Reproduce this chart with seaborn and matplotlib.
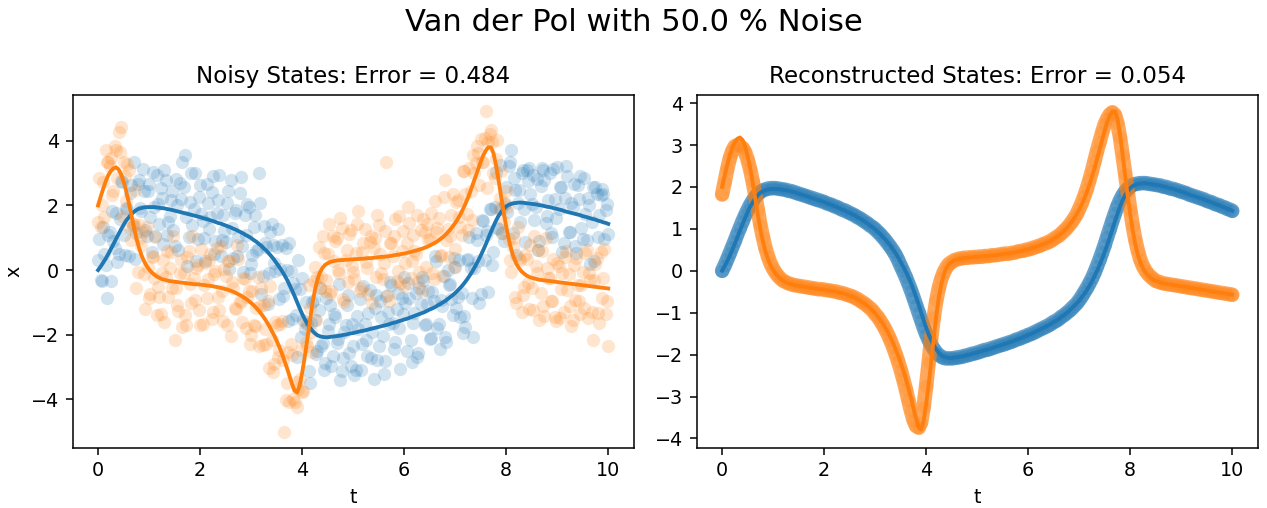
import numpy as np
import matplotlib
matplotlib.use("Agg")
import matplotlib.pyplot as plt
import seaborn as sns

# ---------------- data ----------------
t_start, t_end = 0.0, 10.0

x_true = [
    0.00, 0.11, 0.23, 0.36, 0.50, 0.65, 0.80, 0.96, 1.11, 1.26,
    1.40, 1.53, 1.63, 1.73, 1.80, 1.86, 1.90, 1.92, 1.94, 1.95,
    1.95, 1.95, 1.95, 1.94, 1.93, 1.92, 1.91, 1.89, 1.88, 1.86,
    1.84, 1.82, 1.80, 1.78, 1.76, 1.74, 1.72, 1.70, 1.68, 1.66,
    1.64, 1.61, 1.59, 1.57, 1.54, 1.52, 1.49, 1.46, 1.44, 1.41,
    1.38, 1.35, 1.32, 1.28, 1.25, 1.21, 1.17, 1.13, 1.08, 1.04,
    0.99, 0.93, 0.88, 0.81, 0.75, 0.67, 0.60, 0.51, 0.42, 0.32,
    0.21, 0.10, -0.02, -0.15, -0.29, -0.45, -0.62, -0.80, -0.99, -1.18,
    -1.36, -1.52, -1.66, -1.78, -1.88, -1.96, -2.02, -2.05, -2.07, -2.08,
    -2.08, -2.07, -2.06, -2.05, -2.04, -2.03, -2.01, -2.00, -1.98, -1.96,
    -1.95, -1.93, -1.91, -1.89, -1.88, -1.86, -1.84, -1.82, -1.80, -1.78,
    -1.76, -1.74, -1.72, -1.70, -1.68, -1.65, -1.63, -1.61, -1.58, -1.56,
    -1.53, -1.51, -1.48, -1.45, -1.42, -1.39, -1.36, -1.33, -1.30, -1.26,
    -1.22, -1.19, -1.15, -1.10, -1.06, -1.01, -0.96, -0.90, -0.84, -0.78,
    -0.71, -0.63, -0.55, -0.46, -0.36, -0.25, -0.13, 0.00, 0.14, 0.29,
    0.45, 0.62, 0.80, 0.99, 1.18, 1.36, 1.53, 1.68, 1.80, 1.90,
    1.97, 2.02, 2.05, 2.07, 2.08, 2.09, 2.09, 2.08, 2.07, 2.06,
    2.05, 2.04, 2.03, 2.01, 2.00, 1.98, 1.96, 1.95, 1.93, 1.91,
    1.89, 1.87, 1.85, 1.82, 1.80, 1.78, 1.76, 1.74, 1.72, 1.70,
    1.67, 1.65, 1.63, 1.60, 1.58, 1.56, 1.53, 1.51, 1.48, 1.46,
    1.43,
]

y_true = [
    2.00, 2.27, 2.52, 2.75, 2.94, 3.07, 3.15, 3.18, 3.12, 2.97,
    2.74, 2.45, 2.10, 1.72, 1.34, 0.99, 0.70, 0.46, 0.28, 0.13,
    0.02, -0.07, -0.14, -0.20, -0.24, -0.28, -0.30, -0.32, -0.34, -0.35,
    -0.36, -0.37, -0.38, -0.39, -0.40, -0.41, -0.42, -0.43, -0.44, -0.44,
    -0.45, -0.46, -0.47, -0.48, -0.49, -0.50, -0.52, -0.53, -0.55, -0.57,
    -0.59, -0.61, -0.64, -0.67, -0.71, -0.75, -0.79, -0.84, -0.89, -0.95,
    -1.02, -1.09, -1.17, -1.26, -1.36, -1.47, -1.59, -1.72, -1.87, -2.02,
    -2.19, -2.37, -2.57, -2.79, -3.02, -3.27, -3.52, -3.73, -3.79, -3.58,
    -3.18, -2.70, -2.15, -1.58, -1.05, -0.62, -0.30, -0.07, 0.07, 0.16,
    0.21, 0.25, 0.27, 0.29, 0.30, 0.31, 0.31, 0.32, 0.32, 0.33,
    0.33, 0.34, 0.34, 0.35, 0.35, 0.36, 0.37, 0.37, 0.38, 0.39,
    0.40, 0.41, 0.41, 0.42, 0.43, 0.44, 0.46, 0.47, 0.48, 0.50,
    0.51, 0.53, 0.55, 0.57, 0.59, 0.61, 0.64, 0.66, 0.69, 0.72,
    0.76, 0.80, 0.84, 0.89, 0.95, 1.01, 1.08, 1.16, 1.25, 1.35,
    1.46, 1.58, 1.72, 1.88, 2.05, 2.24, 2.45, 2.67, 2.90, 3.13,
    3.35, 3.55, 3.70, 3.80, 3.80, 3.62, 3.25, 2.78, 2.28, 1.79,
    1.35, 0.96, 0.63, 0.38, 0.19, 0.06, -0.04, -0.11, -0.17, -0.21,
    -0.24, -0.26, -0.28, -0.30, -0.31, -0.32, -0.33, -0.34, -0.35, -0.36,
    -0.37, -0.38, -0.39, -0.40, -0.41, -0.42, -0.43, -0.44, -0.45, -0.46,
    -0.47, -0.48, -0.49, -0.50, -0.51, -0.52, -0.53, -0.54, -0.55, -0.56,
    -0.57,
]

# noisy samples on the main grid (t = 0, 0.05, ..., 10)
x_noisy = [
    0.30, -0.31, 1.33, 0.16, 1.10, -0.35, 0.90, 1.76, 0.51, 2.76,
    1.10, 1.93, 0.43, 2.63, 3.35, 1.16, 2.80, 1.82, 2.44, 1.05,
    2.65, 0.55, 1.95, 2.94, 1.43, 2.22, 3.10, 1.09, 1.68, 2.46,
    0.74, 2.02, 2.70, 3.35, 3.56, 0.14, 2.12, 1.40, 2.99, 0.96,
    2.64, 1.51, 0.29, 2.07, 1.64, 2.92, 0.89, 2.16, 0.44, 1.71,
    0.88, 2.45, 2.79, 0.38, 1.85, 1.01, 2.87, -0.07, 1.08, 1.94,
    0.19, 1.33, 0.58, 2.99, -0.75, 1.37, 0.70, -0.09, 1.42, 0.22,
    0.71, -0.90, 0.78, -0.55, 0.01, 0.85, -1.52, -0.60, -2.69, -0.58,
    -0.26, -1.82, -1.66, -3.50, -0.98, -1.56, -2.52, -0.55, -2.27, -2.88,
    -1.88, -1.07, -2.66, -1.45, -2.14, -3.40, -2.71, -1.70, -0.78, -2.96,
    -2.35, -3.10, -1.81, -3.09, -0.48, -2.16, -1.34, -2.72, -3.37, -0.78,
    -2.36, -1.44, -3.22, -0.80, -1.68, -0.45, -2.43, -1.21, -1.78, -0.86,
    -0.23, -2.51, -0.88, -2.84, -1.32, -2.69, -0.56, -0.23, -1.70, -1.06,
    -2.12, -0.69, 0.45, -1.80, -2.43, -1.11, -2.06, 0.00, -0.44, -1.38,
    0.09, -0.83, -1.45, -1.96, -1.76, 0.35, 0.07, -2.06, 1.14, 0.29,
    -0.75, 1.52, 1.10, -0.67, 1.88, 0.56, 3.03, 1.28, 1.90, 0.90,
    2.57, 3.22, 3.71, 2.85, 0.48, 2.49, 2.99, 1.88, 3.10, 3.16,
    2.05, 1.54, 2.83, 0.91, 3.15, 2.78, 1.66, 3.00, 1.03, 2.21,
    3.20, 2.57, 0.55, 2.22, 2.90, 1.18, 1.96, 0.74, 2.62, 2.90,
    0.97, 1.75, 2.23, 0.20, 2.58, 2.56, 1.03, 2.31, 2.37, 1.86,
    1.13,
]

y_noisy = [
    1.50, 1.34, 2.72, 3.72, 3.34, 3.47, 2.45, 3.72, 4.28, 4.44,
    3.34, 2.15, 3.10, 0.92, 1.44, -0.57, 1.40, 0.76, -0.12, 1.33,
    -0.88, 0.43, -0.24, -1.39, -0.84, -0.08, -1.60, 0.58, 0.06, -0.55,
    -2.17, -1.07, -0.08, -1.75, -1.40, 0.39, -0.42, 1.07, -0.94, 0.16,
    -1.70, -1.66, 0.23, -0.28, 0.51, -1.30, -0.02, -0.83, 0.75, -1.57,
    -0.19, 0.29, -2.04, -0.57, -1.21, 0.35, -0.99, -0.24, -1.79, -0.65,
    -2.00, -1.69, -1.17, -2.36, -0.56, -1.07, -2.29, -3.04, -2.17, -2.92,
    -1.69, -2.47, -1.57, -5.00, -3.50, -4.07, -2.62, -4.10, -4.23, -3.38,
    -3.78, -1.60, -2.35, -1.18, -2.55, 0.08, -0.20, -0.57, 1.07, -0.64,
    0.51, -0.75, 1.07, 0.89, 0.00, 1.61, -0.89, 0.32, -0.38, 1.23,
    -0.07, 0.54, 1.84, -0.55, 0.85, 0.26, -0.73, 1.07, 0.68, -0.21,
    1.40, -0.09, 0.21, 3.35, -0.97, 0.84, 1.06, -0.33, 1.68, 0.60,
    -0.49, 0.83, 1.45, 0.27, 0.59, 1.71, -0.06, -0.64, 1.19, 1.42,
    0.96, -0.10, 2.14, 1.29, 0.45, -0.19, 2.80, 1.26, 1.05, 2.35,
    0.66, 2.18, 1.32, 3.08, 2.35, 1.24, 2.45, 3.57, 3.30, 3.63,
    4.05, 3.35, 4.92, 3.97, 4.35, 3.02, 3.45, 1.88, 3.08, 1.49,
    2.45, 0.96, -0.07, 0.98, -1.01, 0.36, -1.29, -0.51, 0.33, -1.21,
    -0.54, 1.04, -0.08, -1.55, 0.59, -1.42, 0.07, -0.24, -0.95, -1.45,
    0.23, -1.48, -0.09, 0.40, -0.61, -1.12, -1.55, -0.94, -0.45, -1.36,
    -0.07, 0.52, -1.49, -0.30, -2.17, 0.18, -1.33, 0.56, -0.25, -1.36,
    -2.35,
]

# noisy samples on the half-step grid (t = 0.025, 0.075, ..., 9.975)
x_noisy_mid = [
    0.96, -0.33, 0.50, -0.87, 1.18, 1.83, 0.68, 0.24, 1.59, 2.73,
    0.47, 1.88, 2.38, 1.37, 0.33, 2.68, 1.91, 3.13, 1.25, 2.45,
    1.65, 3.05, 1.05, 2.04, 2.53, 0.82, 2.80, 1.49, 2.17, 1.25,
    2.83, 0.61, 2.19, 2.57, 1.65, 1.03, 3.01, 1.89, 0.27, 2.25,
    1.73, 1.00, 2.68, 1.26, 2.43, 0.51, 1.78, 2.95, 0.93, 1.20,
    2.07, 0.04, 1.30, 1.77, 0.43, 2.39, 0.75, 1.71, 2.06, -0.09,
    0.46, 1.71, 0.65, 2.08, -0.19, 0.84, -1.05, 1.17, 0.77, -0.04,
    1.26, 0.04, -0.79, 0.68, -1.57, -0.04, -0.41, -1.40, 0.32, -2.07,
    -1.54, -0.99, -3.12, -1.63, -0.92, -2.59, -1.24, -2.36, -3.08, -0.88,
    -1.68, -2.97, -1.36, -2.25, -0.44, -3.12, -1.91, -1.09, -2.57, -1.66,
    -3.24, -1.42, -0.90, -2.29, -1.67, -2.65, -0.63, -1.91, -1.19, -2.77,
    -0.95, -2.03, -2.81, -1.29, -0.37, -1.64, -2.22, -0.70, -3.07, -1.35,
    -1.02, -0.40, -2.17, -1.64, -0.71, -2.58, -1.05, -0.32, -1.68, -0.64,
    -2.11, -0.97, 0.28, -1.68, -0.94, -0.19, -2.23, -0.47, -0.91, 0.36,
    -1.17, 0.31, -0.71, -1.41, 0.30, 1.01, -0.87, 0.07, 0.92, -1.03,
    1.54, 0.31, 1.20, 1.89, 0.17, 1.95, 1.31, 3.24, 1.15, 2.04,
    1.80, 3.34, 1.16, 2.48, 2.09, 1.49, 3.09, 0.88, 2.77, 2.36,
    2.95, 1.94, 0.62, 2.61, 3.09, 1.47, 2.16, 1.14, 3.12, 1.60,
    1.88, 2.56, 0.84, 3.21, 1.19, 2.07, 2.65, 0.53, 2.21, 1.29,
    2.86, 0.94, 2.02, 1.49, 0.27, 2.35, 1.72, 2.50, 0.97, 2.05,
]

y_noisy_mid = [
    2.84, 2.00, 1.64, 3.35, 3.21, 2.31, 3.85, 2.85, 3.65, 1.66,
    2.90, 3.28, 1.31, 1.43, 2.47, -0.06, 0.98, 1.17, -1.20, 0.08,
    -0.73, 0.40, 1.03, -0.52, -1.36, 0.31, -0.21, -0.83, 0.56, 1.05,
    -0.57, -1.28, 0.32, -0.10, -1.71, 0.59, -1.03, -0.24, 0.06, -1.25,
    0.65, -0.47, -0.88, 0.32, -1.50, -0.11, 0.68, -1.24, -0.66, 0.02,
    -1.70, 0.28, -0.36, -1.19, 0.77, -0.97, -1.62, -0.27, -0.82, -2.29,
    -0.66, -1.73, -0.22, -1.11, -2.32, -1.83, -0.96, -0.50, -3.15, -1.61,
    -2.68, -1.67, -2.78, -4.02, -2.55, -2.30, -3.98, -3.46, -3.69, -2.48,
    -3.74, -2.23, -0.47, -1.92, -0.34, -1.56, 0.72, -0.20, 0.52, -0.32,
    1.43, -0.64, 0.28, 1.00, -0.10, 1.31, -0.99, 0.62, 1.13, 0.13,
    -0.27, 1.44, -0.66, 0.55, 1.26, 0.07, 0.87, -1.03, 0.99, 1.70,
    0.51, -0.29, 1.22, -0.78, 0.84, 0.45, 1.57, -0.03, -0.41, 1.21,
    0.22, 1.94, -0.24, 1.08, 0.50, -0.38, 1.25, 1.58, 0.11, 0.94,
    1.78, -0.28, 1.17, 1.62, 0.48, 2.25, 0.92, 0.41, 1.70, 0.11,
    2.12, 1.65, 1.10, 3.07, 1.75, 3.15, 1.56, 2.99, 3.85, 2.64,
    3.35, 4.10, 2.55, 4.20, 3.95, 2.84, 4.02, 2.23, 1.14, 2.07,
    1.96, 0.30, 0.71, -0.82, 1.33, 0.31, -0.78, 0.46, -0.39, 0.78,
    -1.25, 0.13, 0.61, -0.71, -1.12, 0.98, -0.24, -0.95, 0.35, -1.57,
    0.13, -0.59, -1.30, 0.60, -0.12, -1.73, 0.17, 0.36, -0.96, -0.47,
    -1.18, 0.62, -0.10, -1.31, -0.32, 0.38, -1.64, -0.85, 0.65, -0.97,
]

x_rec = [
    0.00, 0.13, 0.27, 0.42, 0.57, 0.72, 0.88, 1.03, 1.18, 1.32,
    1.45, 1.57, 1.67, 1.76, 1.83, 1.88, 1.92, 1.94, 1.96, 1.97,
    1.97, 1.97, 1.96, 1.95, 1.94, 1.93, 1.91, 1.90, 1.88, 1.86,
    1.84, 1.82, 1.80, 1.78, 1.76, 1.74, 1.72, 1.70, 1.68, 1.66,
    1.64, 1.61, 1.59, 1.57, 1.54, 1.52, 1.49, 1.46, 1.44, 1.41,
    1.38, 1.35, 1.32, 1.28, 1.25, 1.21, 1.17, 1.13, 1.08, 1.04,
    0.99, 0.93, 0.87, 0.80, 0.73, 0.65, 0.57, 0.48, 0.38, 0.26,
    0.12, -0.01, -0.15, -0.30, -0.46, -0.63, -0.81, -0.99, -1.17, -1.35,
    -1.51, -1.65, -1.77, -1.87, -1.95, -2.01, -2.05, -2.08, -2.09, -2.09,
    -2.09, -2.08, -2.07, -2.06, -2.05, -2.03, -2.02, -2.00, -1.98, -1.97,
    -1.95, -1.93, -1.91, -1.89, -1.88, -1.86, -1.84, -1.82, -1.80, -1.78,
    -1.76, -1.74, -1.72, -1.70, -1.68, -1.65, -1.63, -1.61, -1.58, -1.56,
    -1.53, -1.51, -1.48, -1.45, -1.42, -1.39, -1.36, -1.33, -1.30, -1.26,
    -1.22, -1.19, -1.15, -1.10, -1.06, -1.01, -0.96, -0.90, -0.84, -0.78,
    -0.70, -0.61, -0.51, -0.41, -0.30, -0.18, -0.04, 0.11, 0.27, 0.44,
    0.62, 0.81, 1.00, 1.19, 1.37, 1.54, 1.68, 1.80, 1.89, 1.96,
    2.01, 2.05, 2.07, 2.08, 2.09, 2.09, 2.09, 2.08, 2.07, 2.06,
    2.05, 2.04, 2.03, 2.01, 2.00, 1.98, 1.96, 1.95, 1.93, 1.91,
    1.89, 1.87, 1.85, 1.82, 1.80, 1.78, 1.76, 1.74, 1.72, 1.70,
    1.67, 1.65, 1.63, 1.60, 1.58, 1.56, 1.53, 1.51, 1.48, 1.46,
    1.43,
]

y_rec = [
    1.82, 2.12, 2.42, 2.68, 2.86, 2.97, 3.00, 2.98, 2.93, 2.83,
    2.65, 2.42, 2.13, 1.80, 1.45, 1.10, 0.80, 0.54, 0.34, 0.17,
    0.05, -0.05, -0.13, -0.19, -0.24, -0.27, -0.30, -0.32, -0.34, -0.35,
    -0.36, -0.37, -0.38, -0.39, -0.40, -0.41, -0.42, -0.43, -0.44, -0.44,
    -0.45, -0.46, -0.47, -0.48, -0.49, -0.50, -0.52, -0.53, -0.55, -0.57,
    -0.59, -0.61, -0.64, -0.67, -0.71, -0.75, -0.79, -0.84, -0.89, -0.95,
    -1.03, -1.10, -1.19, -1.29, -1.40, -1.52, -1.66, -1.81, -1.98, -2.16,
    -2.36, -2.58, -2.82, -3.08, -3.33, -3.55, -3.70, -3.74, -3.62, -3.25,
    -2.75, -2.18, -1.60, -1.10, -0.70, -0.40, -0.18, -0.02, 0.09, 0.17,
    0.21, 0.25, 0.27, 0.29, 0.30, 0.31, 0.31, 0.32, 0.32, 0.33,
    0.33, 0.34, 0.34, 0.35, 0.35, 0.36, 0.37, 0.37, 0.38, 0.39,
    0.40, 0.41, 0.41, 0.42, 0.43, 0.44, 0.46, 0.47, 0.48, 0.50,
    0.51, 0.53, 0.55, 0.57, 0.59, 0.61, 0.64, 0.66, 0.69, 0.72,
    0.76, 0.80, 0.84, 0.89, 0.95, 1.01, 1.08, 1.16, 1.25, 1.35,
    1.48, 1.62, 1.78, 1.96, 2.16, 2.38, 2.62, 2.86, 3.08, 3.30,
    3.49, 3.63, 3.73, 3.78, 3.72, 3.52, 3.18, 2.76, 2.32, 1.88,
    1.46, 1.07, 0.74, 0.47, 0.26, 0.11, 0.00, -0.08, -0.14, -0.19,
    -0.24, -0.26, -0.28, -0.30, -0.31, -0.32, -0.33, -0.34, -0.35, -0.36,
    -0.37, -0.38, -0.39, -0.40, -0.41, -0.42, -0.43, -0.44, -0.45, -0.46,
    -0.47, -0.48, -0.49, -0.50, -0.51, -0.52, -0.53, -0.54, -0.55, -0.56,
    -0.57,
]

noisy_error = 0.484
recon_error = 0.054
noise_pct = 50.0

# sampling grids of the time axis
t = np.linspace(t_start, t_end, len(x_true))
t_mid = np.linspace(t_start + 0.025, t_end - 0.025, len(x_noisy_mid))

# ---------------- figure ----------------
DPI = 138
fig, (ax1, ax2) = plt.subplots(1, 2, figsize=(1267 / DPI, 508 / DPI), dpi=DPI)
fig.subplots_adjust(left=0.0573, right=0.9927, bottom=0.1187, top=0.8136,
                    wspace=0.112)

C0 = "#1f77b4"
C1 = "#ff7f0e"
S = 48

# left: noisy states
t_all = np.concatenate([t, t_mid])
sns.scatterplot(x=t_all, y=np.concatenate([x_noisy, x_noisy_mid]), ax=ax1,
                color=C0, alpha=0.2, s=S, linewidth=0, legend=False)
sns.scatterplot(x=t_all, y=np.concatenate([y_noisy, y_noisy_mid]), ax=ax1,
                color=C1, alpha=0.2, s=S, linewidth=0, legend=False)
sns.lineplot(x=t, y=x_true, ax=ax1, color=C0, linewidth=2, legend=False)
sns.lineplot(x=t, y=y_true, ax=ax1, color=C1, linewidth=2, legend=False)
ax1.set_xlim(-0.5, 10.5)
ax1.set_ylim(-5.50, 5.43)
ax1.set_xticks([0, 2, 4, 6, 8, 10])
ax1.set_yticks([-4, -2, 0, 2, 4])
ax1.set_xlabel("t")
ax1.set_ylabel("x")
ax1.set_title(f"Noisy States: Error = {noisy_error:.3f}")

# right: reconstructed states (dense, overlapping translucent markers)
band_w = 7.6  # points, ~ marker diameter
for vals, col in ((x_rec, C0), (y_rec, C1)):
    sns.lineplot(x=t, y=vals, ax=ax2, color=col, linewidth=band_w, alpha=0.68,
                 solid_capstyle="round", legend=False)
    sns.scatterplot(x=t, y=vals, ax=ax2, color=col, alpha=0.22, s=S,
                    linewidth=0, legend=False)
sns.lineplot(x=t, y=x_true, ax=ax2, color=C0, linewidth=2, legend=False)
sns.lineplot(x=t, y=y_true, ax=ax2, color=C1, linewidth=2, legend=False)
ax2.set_xlim(-0.5, 10.5)
ax2.set_ylim(-4.22, 4.20)
ax2.set_xticks([0, 2, 4, 6, 8, 10])
ax2.set_yticks([-4, -3, -2, -1, 0, 1, 2, 3, 4])
ax2.set_xlabel("t")
ax2.set_ylabel("")
ax2.set_title(f"Reconstructed States: Error = {recon_error:.3f}")

fig.suptitle(f"Van der Pol with {noise_pct:.1f} % Noise", fontsize=16, y=0.985)

fig.savefig("out.png", dpi=DPI)
